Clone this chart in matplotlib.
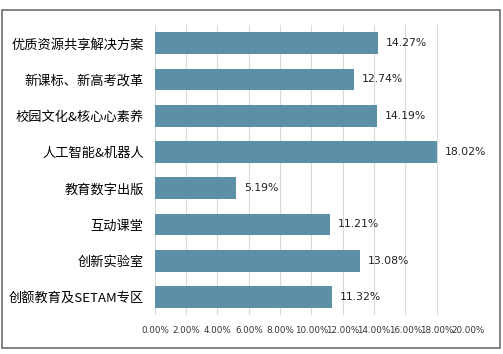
import matplotlib.pyplot as plt
from matplotlib.patches import Rectangle
from matplotlib.ticker import FuncFormatter

plt.rcParams['font.family'] = ['Noto Sans CJK SC', 'DejaVu Sans']

categories = ["优质资源共享解决方案", "新课标、新高考改革", "校园文化&核心心素养", "人工智能&机器人",
              "教育数字出版", "互动课堂", "创新实验室", "创额教育及SETAM专区"]
values = [14.27, 12.74, 14.19, 18.02, 5.19, 11.21, 13.08, 11.32]

fig = plt.figure(figsize=(5.03, 3.54), dpi=100)
ax = fig.add_axes([0.308, 0.110, 0.622, 0.819])

y = list(range(len(categories)))
ax.barh(y, values, height=0.6, color="#5d8fa6", zorder=3)
for yi, v in zip(y, values):
    ax.text(v + 0.5, yi, f"{v:.2f}%", va="center", ha="left", fontsize=7.8, color="#222222",
            family="DejaVu Sans")

ax.set_yticks(y)
ax.set_yticklabels(categories, fontsize=9.5)
ax.set_ylim(len(categories) - 0.5, -0.5)
ax.set_xlim(0, 20)
ax.set_xticks(range(0, 21, 2))
ax.xaxis.set_major_formatter(FuncFormatter(lambda x, p: f"{x:.2f}%"))
for lab in ax.get_xticklabels():
    lab.set_fontsize(6.3)
    lab.set_family("DejaVu Sans")
    lab.set_color("#333333")
ax.tick_params(axis="x", length=0, pad=8)
ax.tick_params(axis="y", length=0, pad=8)
ax.grid(axis="x", color="#d9d9d9", linewidth=0.8, zorder=0)
for s in ax.spines.values():
    s.set_visible(False)

fig.patches.append(Rectangle((0.004, 0.017), 0.990, 0.955, transform=fig.transFigure,
                             fill=False, edgecolor="#6e6e6e", linewidth=1.2))

fig.savefig("out.png", dpi=100)
